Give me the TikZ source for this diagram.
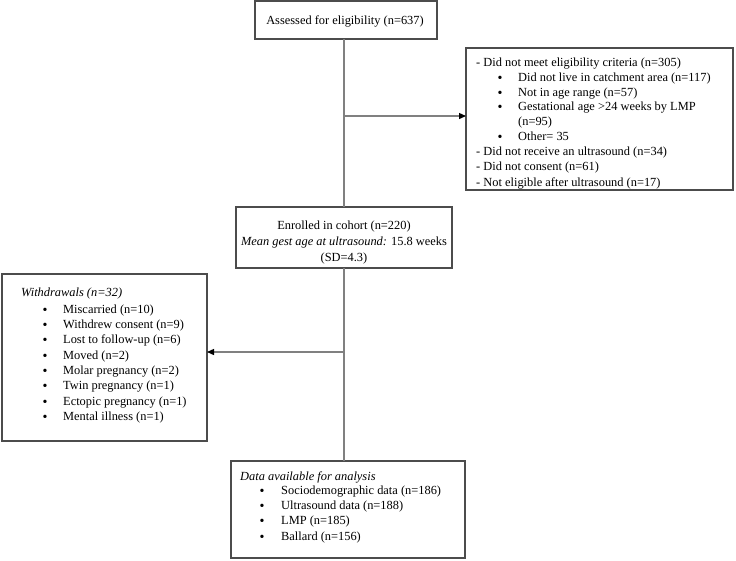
\documentclass[tikz,border=0pt]{standalone}
\usepackage{fontspec}
\setmainfont{Liberation Serif}
\usetikzlibrary{arrows.meta}
\begin{document}
\begin{tikzpicture}[x=1pt,y=-1pt,
  boxframe/.style={draw=black!70,line width=1.1pt,inner sep=0pt,outer sep=0pt,rectangle},
  ln/.style={anchor=base west,inner sep=0pt,font=\fontsize{12.4}{15}\selectfont},
  cln/.style={anchor=base,inner sep=0pt,font=\fontsize{12.4}{15}\selectfont},
  bul/.style={anchor=base,inner sep=0pt,font=\fontsize{14}{15}\selectfont},
  conn/.style={draw=black!50,line width=1.3pt},
  arr/.style={conn,-{Triangle[length=7pt,width=6pt,color=black]}}]
\useasboundingbox (0,0) rectangle (736,560);
% boxes
\node[boxframe,minimum width=182,minimum height=38] (top) at (346,20) {};
\node[boxframe,minimum width=267,minimum height=142] (excl) at (599.5,119) {};
\node[boxframe,minimum width=216,minimum height=61] (enr) at (344,237.5) {};
\node[boxframe,minimum width=205,minimum height=167] (wd) at (104.5,357.5) {};
\node[boxframe,minimum width=234,minimum height=97] (data) at (348,509.5) {};
% top text
\node[cln] (t1) at (345,24) {Assessed for eligibility (n=637)};
% exclusion text
\node[ln] (e1) at (476,66) {- Did not meet eligibility criteria (n=305)};
\node[bul] (eb1) at (500,82) {\textbullet};
\node[ln] (e2) at (518,81) {Did not live in catchment area (n=117)};
\node[bul] (eb2) at (500,97) {\textbullet};
\node[ln] (e3) at (518,96) {Not in age range (n=57)};
\node[bul] (eb3) at (500,111) {\textbullet};
\node[ln] (e4) at (518,110) {Gestational age >24 weeks by LMP};
\node[ln] (e5) at (518,125) {(n=95)};
\node[bul] (eb4) at (500,141) {\textbullet};
\node[ln] (e6) at (518,140) {Other= 35};
\node[ln] (e7) at (476,155) {- Did not receive an ultrasound (n=34)};
\node[ln] (e8) at (476,170) {- Did not consent (n=61)};
\node[ln] (e9) at (476,186) {- Not eligible after ultrasound (n=17)};
% enrolled text
\node[cln] (n1) at (344,229) {Enrolled in cohort (n=220)};
\node[cln] (n2) at (344,245) {\textit{Mean gest age at ultrasound:} 15.8 weeks};
\node[cln] (n3) at (344,261) {(SD=4.3)};
% withdrawals text
\node[ln] (w0) at (21,296) {\textit{Withdrawals (n=32)}};
\foreach \t [count=\i] in {Miscarried (n=10),Withdrew consent (n=9),Lost to follow-up (n=6),Moved (n=2),Molar pregnancy (n=2),Twin pregnancy (n=1),Ectopic pregnancy (n=1),Mental illness (n=1)}{
  \node[bul] (wb\i) at (45,299+15.3*\i) {\textbullet};
  \node[ln] (w\i) at (63,298+15.3*\i) {\t};
}
% data text
\node[ln] (d0) at (240,480) {\textit{Data available for analysis}};
\foreach \t [count=\i] in {Sociodemographic data (n=186),Ultrasound data (n=188),LMP (n=185),Ballard (n=156)}{
  \node[bul] (db\i) at (262,480+15.3*\i) {\textbullet};
  \node[ln] (d\i) at (281,479+15.3*\i) {\t};
}
% connectors
\coordinate (j1) at (344,116);
\coordinate (j2) at (344,352);
\draw[conn] (top.south -| j1) -- (enr.north -| j1);
\draw[arr] (j1) -- (j1 -| excl.west);
\draw[conn] (enr.south -| j2) -- (data.north -| j2);
\draw[arr] (j2) -- (j2 -| wd.east);
\end{tikzpicture}
\end{document}
